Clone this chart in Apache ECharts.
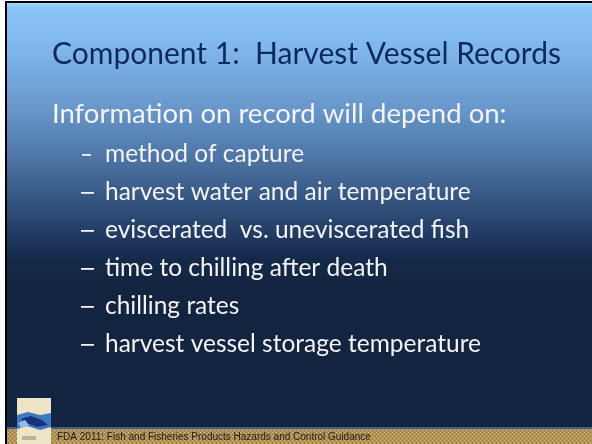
<!DOCTYPE html>
<html>
<head>
<meta charset="utf-8">
<script src="https://cdn.jsdelivr.net/npm/echarts@6/dist/echarts.min.js"></script>
<style>
  html, body { margin: 0; padding: 0; background: #fff; }
  #main { width: 592px; height: 444px; }
</style>
</head>
<body>
<div id="main"></div>
<script>
// slide texts
var titleText = "Component 1:  Harvest Vessel Records";
var leadText = "Information on record will depend on:";
var bulletItems = [
  "method of capture",
  "harvest water and air temperature",
  "eviscerated  vs. uneviscerated fish",
  "time to chilling after death",
  "chilling rates",
  "harvest vessel storage temperature"
];
var footerText = "FDA 2011: Fish and Fisheries Products Hazards and Control Guidance";

var chartDom = document.getElementById("main");
var myChart = echarts.init(chartDom, null, { renderer: "canvas" });

// tan dotted footer pattern
var pat = document.createElement("canvas");
pat.width = 4;
pat.height = 4;
var pctx = pat.getContext("2d");
pctx.fillStyle = "#b39456";
pctx.fillRect(0, 0, 4, 4);
pctx.fillStyle = "#d9c07a";
pctx.fillRect(0, 0, 1, 1);
pctx.fillRect(2, 2, 1, 1);
pctx.fillStyle = "#86703f";
pctx.fillRect(2, 0, 1, 1);
pctx.fillRect(0, 2, 1, 1);

var font = "Lato, 'Open Sans', sans-serif";
var graphics = [];

// slide background
graphics.push({
  type: "rect",
  shape: { x: 5, y: 1, width: 587, height: 443 },
  style: { fill: "#000" }
});
graphics.push({
  type: "rect",
  shape: { x: 7, y: 3, width: 585, height: 426 },
  style: {
    fill: new echarts.graphic.LinearGradient(0, 0, 0, 1, [
      { offset: 0, color: "#a9d5fb" },
      { offset: 0.01, color: "#8cc5fa" },
      { offset: 0.12, color: "#7db4ea" },
      { offset: 0.25, color: "#6796ca" },
      { offset: 0.35, color: "#5079aa" },
      { offset: 0.44, color: "#3a5c88" },
      { offset: 0.53, color: "#243f68" },
      { offset: 0.6, color: "#152a4a" },
      { offset: 0.66, color: "#12243f" },
      { offset: 1, color: "#12243f" }
    ])
  }
});
graphics.push({
  type: "rect",
  shape: { x: 7, y: 427, width: 585, height: 2 },
  style: { fill: "#3d5f95" }
});
graphics.push({
  type: "rect",
  shape: { x: 7, y: 429, width: 585, height: 15 },
  style: { fill: { image: pat, repeat: "repeat" } }
});

// title
graphics.push({
  type: "text",
  x: 52,
  y: 54,
  style: {
    text: titleText,
    fill: "#0e2a5c",
    font: "30px " + font,
    textVerticalAlign: "middle"
  }
});
// lead line
graphics.push({
  type: "text",
  x: 52,
  y: 114.5,
  style: {
    text: leadText,
    fill: "#f4f4f4",
    font: "27.5px " + font,
    textVerticalAlign: "middle"
  }
});
// bullets
bulletItems.forEach(function (item, i) {
  var y = 154 + i * 38;
  graphics.push({
    type: "rect",
    shape: { x: i === 0 ? 82 : 81, y: y, width: i === 0 ? 9 : 13, height: 1.8 },
    style: { fill: "#f4f4f4" }
  });
  graphics.push({
    type: "text",
    x: 105,
    y: y,
    style: {
      text: item,
      fill: "#f4f4f4",
      font: "24.5px " + font,
      textVerticalAlign: "middle"
    }
  });
});

// book thumbnail
graphics.push({
  type: "rect",
  shape: { x: 17, y: 398, width: 34, height: 46 },
  style: { fill: "#eee5c6" }
});
graphics.push({
  type: "polygon",
  shape: { points: [[17, 415], [28, 412], [40, 415], [51, 413], [51, 427], [40, 430], [27, 426], [17, 429]] },
  style: { fill: "#3b79c0" }
});
graphics.push({
  type: "polygon",
  shape: { points: [[21, 419], [31, 416], [42, 420], [48, 425], [37, 427], [26, 423]] },
  style: { fill: "#16307a" }
});
graphics.push({
  type: "polygon",
  shape: { points: [[18, 423], [25, 420], [29, 425], [21, 428]] },
  style: { fill: "#8cc0e6" }
});
graphics.push({
  type: "rect",
  shape: { x: 22, y: 436, width: 14, height: 4 },
  style: { fill: "#b9b3a0" }
});

// footer text
graphics.push({
  type: "text",
  x: 57,
  y: 437,
  style: {
    text: footerText,
    fill: "#1c1c1c",
    font: "10px 'Liberation Sans', Arial, sans-serif",
    textVerticalAlign: "middle"
  }
});

var option = {
  animation: false,
  graphic: graphics
};

option && myChart.setOption(option);
window.addEventListener("resize", function () {
  myChart.resize();
});
</script>
</body>
</html>
